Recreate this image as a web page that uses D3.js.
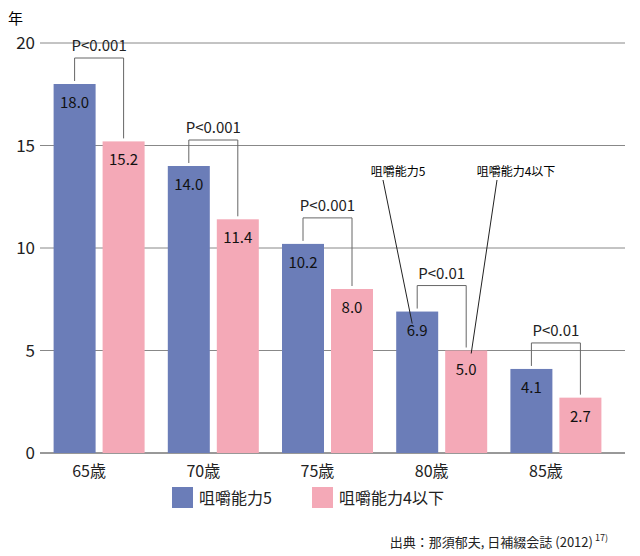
<!DOCTYPE html>
<html><head><meta charset="utf-8">
<script src="https://cdn.jsdelivr.net/npm/d3@7"></script>
<style>body{margin:0;background:#fff}text{font-family:"Noto Sans CJK JP","Liberation Sans",sans-serif}</style>
</head><body><svg id="c" width="640" height="556"></svg>
<script>
const categories = ["65歳","70歳","75歳","80歳","85歳"];
const series5 = [18.0,14.0,10.2,6.9,4.1];
const series4 = [15.2,11.4,8.0,5.0,2.7];
const pLabels = ["P<0.001","P<0.001","P<0.001","P<0.01","P<0.01"];
const yTicks = [0,5,10,15,20];
const seriesNames = ["咀嚼能力5","咀嚼能力4以下"];
const colors = ["#6b7db8","#f4a9b7"];

const svg = d3.select("#c");
const x = d3.scaleBand().domain(categories).range([42,613]);
const y = d3.scaleLinear().domain([0,20]).range([453,43]);
const bw = 42, gap = 7;

svg.append("g").selectAll("line").data(yTicks).join("line")
  .attr("x1",40).attr("x2",625).attr("y1",d=>y(d)).attr("y2",d=>y(d))
  .attr("stroke",d=>d===0?"#333":"#888").attr("stroke-width",1);
svg.append("g").selectAll("text").data(yTicks).join("text")
  .attr("x",35).attr("y",d=>y(d)+6).attr("text-anchor","end")
  .attr("font-size",17).attr("fill","#222").text(d=>d);
svg.append("text").attr("x",8).attr("y",24).attr("font-size",15).text("年");

const cx = c => x(c)+x.bandwidth()/2;
const data = categories.map((c,i)=>({c,v:[series5[i],series4[i]],p:pLabels[i]}));
data.forEach(d=>{
  d.v.forEach((v,j)=>{
    const x0 = j===0 ? cx(d.c)-gap/2-bw : cx(d.c)+gap/2;
    svg.append("rect").attr("x",x0).attr("y",y(v)).attr("width",bw).attr("height",y(0)-y(v)).attr("fill",colors[j]);
    svg.append("text").attr("x",x0+bw/2).attr("y",y(v)+24).attr("text-anchor","middle")
      .attr("font-size",15).attr("fill","#111").text(v.toFixed(1));
  });
  const xl = cx(d.c)-gap/2-bw/2, xr = cx(d.c)+gap/2+bw/2;
  const top = y(Math.max(...d.v))-26;
  svg.append("path").attr("d",`M${xl},${y(d.v[0])-3}V${top}H${xr}V${y(d.v[1])-3}`)
    .attr("fill","none").attr("stroke","#666").attr("stroke-width",1);
  svg.append("text").attr("x",cx(d.c)).attr("y",top-7).attr("text-anchor","middle")
    .attr("font-size",15).attr("fill","#222").text(d.p);
  svg.append("text").attr("x",cx(d.c)-10).attr("y",477).attr("text-anchor","middle")
    .attr("font-size",16).attr("fill","#222").text(d.c);
});

// annotations at 80歳
const c80 = categories[3];
const bx = cx(c80)-gap/2-bw/2, px = cx(c80)+gap/2+bw/2;
svg.append("text").attr("x",398).attr("y",176).attr("text-anchor","middle").attr("font-size",12).text(seriesNames[0]);
svg.append("line").attr("x1",383).attr("y1",180).attr("x2",bx-5).attr("y2",y(series5[3])+12).attr("stroke","#222");
svg.append("text").attr("x",516).attr("y",176).attr("text-anchor","middle").attr("font-size",12).text(seriesNames[1]);
svg.append("line").attr("x1",497).attr("y1",180).attr("x2",px+5).attr("y2",y(series4[3])+3).attr("stroke","#222");

// legend
const lg = [[172,seriesNames[0]],[312,seriesNames[1]]];
lg.forEach(([lx,t],i)=>{
  svg.append("rect").attr("x",lx).attr("y",487).attr("width",21).attr("height",21).attr("fill",colors[i]);
  svg.append("text").attr("x",lx+27).attr("y",504).attr("font-size",16).attr("fill","#222").text(t);
});
const src = svg.append("text").attr("x",608).attr("y",547).attr("text-anchor","end").attr("font-size",13).attr("fill","#222");
src.append("tspan").text("出典：那須郁夫, 日補綴会誌 (2012)");
src.append("tspan").attr("dy",-6).attr("font-size",9).text(" 17)");
</script></body></html>
